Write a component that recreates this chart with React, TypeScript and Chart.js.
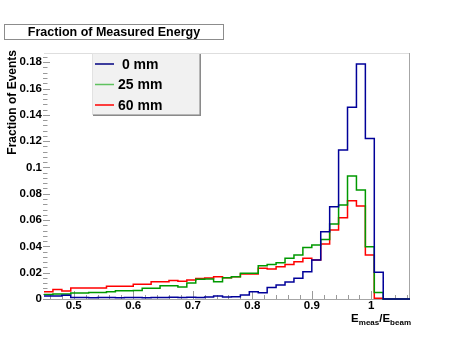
import React, { useEffect, useRef } from "react";
import { Chart, registerables } from "chart.js";

Chart.register(...registerables);

// ---- data ----
const BIN_START = 0.45;
const BIN_WIDTH = 0.015;
const X_MIN = 0.45;
const X_MAX = 1.065;
const Y_MIN = 0;
const Y_MAX = 0.187;

const seriesLabels = [" 0 mm", "25 mm", "60 mm"];
const seriesColors = ["#000099", "#009900", "#ff0000"];
const legendSampleColors = ["#000080", "#5fc25f", "#ff0000"];

const values0mm = [
  0.0022, 0.0022, 0.0028, 0.0012, 0.0012, 0.001, 0.0012, 0.0011, 0.001, 0.0012,
  0.0011, 0.001, 0.0012, 0.0011, 0.0013, 0.0012, 0.0014, 0.0012, 0.0015, 0.0022,
  0.0016, 0.0018, 0.003, 0.0056, 0.0048, 0.0088, 0.0106, 0.013, 0.0157, 0.0208,
  0.0296, 0.0511, 0.0701, 0.1132, 0.1457, 0.1786, 0.1221, 0.0203, 0, 0, 0,
];
const values25mm = [
  0.0035, 0.0038, 0.0038, 0.0045, 0.0045, 0.005, 0.005, 0.0055, 0.0063, 0.0063,
  0.0065, 0.0081, 0.0081, 0.01, 0.01, 0.0092, 0.0122, 0.015, 0.0152, 0.0132,
  0.0162, 0.017, 0.0195, 0.0195, 0.0253, 0.0263, 0.0275, 0.031, 0.0334, 0.0392,
  0.041, 0.0453, 0.057, 0.0714, 0.0935, 0.0828, 0.0398, 0.005, 0, 0, 0,
];
const values60mm = [
  0.0056, 0.0073, 0.0061, 0.0083, 0.0083, 0.0083, 0.0083, 0.0096, 0.0096, 0.0096,
  0.0112, 0.0112, 0.0132, 0.0132, 0.0141, 0.0135, 0.0145, 0.0155, 0.016, 0.017,
  0.0162, 0.017, 0.019, 0.019, 0.0233, 0.0228, 0.0246, 0.0263, 0.0284, 0.0309,
  0.0296, 0.0418, 0.0524, 0.0618, 0.0747, 0.0707, 0.0334, 0.0005, 0, 0, 0,
];

const xTickValues = [0.5, 0.6, 0.7, 0.8, 0.9, 1.0];
const yTickValues = [0, 0.02, 0.04, 0.06, 0.08, 0.1, 0.12, 0.14, 0.16, 0.18];

const chartTitle = "Fraction of Measured Energy";
const yTitle = "Fraction of Events";

const FONT = '"Liberation Sans", Arial, Helvetica, sans-serif';

function toSteps(vals: number[]) {
  const pts: { x: number; y: number }[] = [];
  for (let k = 0; k <= vals.length; k++) {
    pts.push({ x: BIN_START + k * BIN_WIDTH, y: vals[Math.min(k, vals.length - 1)] });
  }
  return pts;
}

function fmt(v: number) {
  return String(Math.round(v * 100) / 100);
}

const rootStyle = {
  id: "rootStyle",
  beforeDatasetsDraw(chart: any) {
    const { ctx, chartArea: a, scales } = chart;
    const xs = scales.x;
    const ys = scales.y;
    ctx.save();
    ctx.lineWidth = 1;
    // frame
    ctx.strokeStyle = "#dedede";
    ctx.beginPath();
    ctx.moveTo(a.left, a.top + 0.5);
    ctx.lineTo(a.right, a.top + 0.5);
    ctx.stroke();
    ctx.strokeStyle = "#a6a6a6";
    ctx.beginPath();
    ctx.moveTo(a.right - 0.5, a.top);
    ctx.lineTo(a.right - 0.5, a.bottom + 1);
    ctx.stroke();
    ctx.beginPath();
    ctx.moveTo(a.left, a.bottom + 0.5);
    ctx.lineTo(a.right, a.bottom + 0.5);
    ctx.stroke();
    // y ticks
    ctx.strokeStyle = "#9a9a9a";
    const nY = Math.floor(Y_MAX / 0.004 + 1e-6);
    for (let i = 0; i <= nY; i++) {
      const v = i * 0.004;
      const py = Math.round(ys.getPixelForValue(v)) + 0.5;
      const len = i % 5 === 0 ? 7 : 4.5;
      ctx.beginPath();
      ctx.moveTo(a.left - 1, py);
      ctx.lineTo(a.left - 1 + len, py);
      ctx.stroke();
    }
    // x ticks
    const i0 = Math.ceil(X_MIN / 0.02 - 1e-6);
    const i1 = Math.floor(X_MAX / 0.02 + 1e-6);
    for (let i = i0; i <= i1; i++) {
      const v = i * 0.02;
      const px = Math.round(xs.getPixelForValue(v)) + 0.5;
      const len = i % 5 === 0 ? 8 : 4;
      ctx.beginPath();
      ctx.moveTo(px, a.bottom);
      ctx.lineTo(px, a.bottom - len);
      ctx.stroke();
    }
    ctx.restore();
  },
  afterDraw(chart: any) {
    const { ctx, chartArea: a } = chart;
    ctx.save();
    // title box
    ctx.fillStyle = "#ffffff";
    ctx.fillRect(4, 24, 220, 16);
    ctx.strokeStyle = "#8c8c8c";
    ctx.lineWidth = 1;
    ctx.strokeRect(4.5, 24.5, 219, 15);
    ctx.fillStyle = "#000";
    ctx.font = `bold 12.5px ${FONT}`;
    ctx.textAlign = "center";
    ctx.textBaseline = "middle";
    ctx.fillText(chartTitle, 114, 32.5);

    // legend box
    const lx = a.left + 48;
    const ly = a.top;
    const lw = 108;
    const lh = 62;
    ctx.fillStyle = "#f1f1f1";
    ctx.fillRect(lx, ly, lw, lh);
    ctx.strokeStyle = "#e2e2e2";
    ctx.strokeRect(lx + 0.5, ly + 0.5, lw - 1, lh - 1);
    ctx.strokeStyle = "#8a8a8a";
    ctx.lineWidth = 1.5;
    ctx.beginPath();
    ctx.moveTo(lx + 1, ly + lh + 0.25);
    ctx.lineTo(lx + lw + 0.25, ly + lh + 0.25);
    ctx.lineTo(lx + lw + 0.25, ly + 1);
    ctx.stroke();
    const rows = [64, 84.5, 105];
    ctx.font = `bold 14px ${FONT}`;
    ctx.textAlign = "left";
    ctx.textBaseline = "middle";
    for (let i = 0; i < seriesLabels.length; i++) {
      ctx.strokeStyle = legendSampleColors[i];
      ctx.lineWidth = 1.5;
      ctx.beginPath();
      ctx.moveTo(lx + 3, rows[i]);
      ctx.lineTo(lx + 22, rows[i]);
      ctx.stroke();
      ctx.fillStyle = "#000";
      ctx.fillText(seriesLabels[i], lx + 26, rows[i] + 1);
    }

    // y title
    ctx.save();
    ctx.translate(16, a.top - 3);
    ctx.rotate(-Math.PI / 2);
    ctx.font = `bold 12px ${FONT}`;
    ctx.textAlign = "right";
    ctx.textBaseline = "alphabetic";
    ctx.fillStyle = "#000";
    ctx.fillText(yTitle, 0, 0);
    ctx.restore();

    // x title: E_meas / E_beam
    const big = `bold 11.5px ${FONT}`;
    const small = `bold 8px ${FONT}`;
    const parts = [
      { t: "E", f: big, dy: 0 },
      { t: "meas", f: small, dy: 3 },
      { t: "/", f: big, dy: 0 },
      { t: "E", f: big, dy: 0 },
      { t: "beam", f: small, dy: 3 },
    ];
    let total = 0;
    for (const p of parts) {
      ctx.font = p.f;
      total += ctx.measureText(p.t).width;
    }
    let cx = a.right + 1 - total;
    const base = 321.5;
    ctx.textAlign = "left";
    ctx.textBaseline = "alphabetic";
    for (const p of parts) {
      ctx.font = p.f;
      ctx.fillText(p.t, cx, base + p.dy);
      cx += ctx.measureText(p.t).width;
    }
    ctx.restore();
  },
};

export default function App() {
  const ref = useRef<HTMLCanvasElement>(null);
  useEffect(() => {
    const seriesValues = [values0mm, values25mm, values60mm];
    const chart = new Chart(ref.current as HTMLCanvasElement, {
      type: "line",
      data: {
        datasets: seriesValues.map((vals, i) => ({
          label: seriesLabels[i],
          data: toSteps(vals),
          borderColor: seriesColors[i],
          borderWidth: 1.5,
          stepped: "before" as const,
          pointRadius: 0,
          fill: false,
          clip: false as any,
        })),
      },
      options: {
        animation: false,
        responsive: false,
        devicePixelRatio: 1,
        layout: { padding: { left: 0, top: 53, right: 47, bottom: 0 } },
        plugins: {
          legend: { display: false },
          title: { display: false },
          tooltip: { enabled: false },
        },
        scales: {
          x: {
            type: "linear",
            min: X_MIN,
            max: X_MAX,
            grid: { display: false, drawTicks: false },
            border: { display: false },
            afterBuildTicks: (s: any) => {
              s.ticks = xTickValues.map((v) => ({ value: v }));
            },
            afterFit: (s: any) => {
              s.height = 54;
            },
            ticks: {
              autoSkip: false,
              maxRotation: 0,
              padding: 0,
              color: "#000",
              font: { family: FONT, size: 11.5, weight: "bold" },
              callback: (v: any) => fmt(Number(v)),
            },
          },
          y: {
            type: "linear",
            min: Y_MIN,
            max: Y_MAX,
            grid: { display: false, drawTicks: false },
            border: { display: false },
            afterBuildTicks: (s: any) => {
              s.ticks = yTickValues.map((v) => ({ value: v }));
            },
            afterFit: (s: any) => {
              s.width = 44;
            },
            ticks: {
              autoSkip: false,
              padding: 2,
              color: "#000",
              font: { family: FONT, size: 11.5, weight: "bold" },
              callback: (v: any) => fmt(Number(v)),
            },
          },
        },
      },
      plugins: [rootStyle],
    } as any);
    return () => chart.destroy();
  }, []);
  return (
    <div style={{ position: "fixed", left: 0, top: 0, width: 457, height: 353, background: "#fff" }}>
      <canvas ref={ref} width={457} height={353} style={{ display: "block", width: 457, height: 353 }} />
    </div>
  );
}
